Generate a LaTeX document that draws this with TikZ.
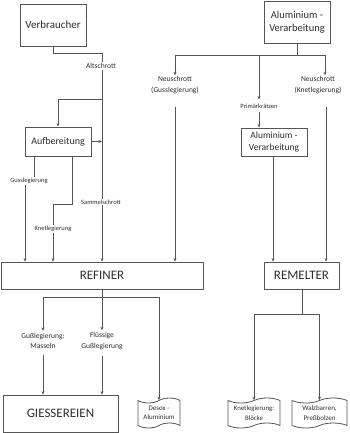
\documentclass[tikz,border=0pt]{standalone}
\usepackage{fontspec}
\setmainfont{Carlito}
\usetikzlibrary{arrows.meta,shapes.symbols}
\definecolor{linec}{HTML}{555555}
\definecolor{textc}{HTML}{2E2E2E}
\begin{document}
\begin{tikzpicture}[x=1pt,y=-1pt,
  box/.style={draw=linec, line width=0.8pt, text=textc, align=center, inner sep=0pt},
  lbl/.style={text=textc, align=center, inner sep=1pt, fill=white},
  conn/.style={draw=linec, line width=0.8pt},
  arr/.style={conn, -{Stealth[length=3.5pt,width=3pt]}},
  docbox/.style={tape, draw=linec, line width=0.8pt, text=textc, align=center, tape bend height=5pt, inner sep=0pt},
  fbig/.style={font=\fontsize{13}{15}\selectfont},
  fmid/.style={font=\fontsize{10}{12.5}\selectfont},
  fsmall/.style={font=\fontsize{7.5}{10.5}\selectfont},
  ftiny/.style={font=\fontsize{6.5}{7.5}\selectfont}]
\useasboundingbox (0,0) rectangle (350,433);
% boxes
\node[box, minimum width=66pt, minimum height=42pt, font=\fontsize{11}{13}\selectfont] (verb) at (53,25) {Verbraucher};
\node[box, minimum width=66pt, minimum height=42pt, font=\fontsize{10.5}{13}\selectfont] (alu1) at (297,22) {Aluminium -\\Verarbeitung};
\node[box, fmid, minimum width=66pt, minimum height=29pt] (auf) at (58,141.5) {Aufbereitung};
\node[box, font=\fontsize{9.5}{12}\selectfont, minimum width=66pt, minimum height=28pt] (alu2) at (274,142) {Aluminium -\\Verarbeitung};
\node[box, fbig, minimum width=202pt, minimum height=27pt] (ref) at (102,275.5) {REFINER};
\node[box, fbig, minimum width=75pt, minimum height=27pt] (rem) at (301.5,275.5) {REMELTER};
\node[box, fbig, minimum width=115pt, minimum height=37pt] (gie) at (60.5,413.5) {GIESSEREIEN};
\node[docbox, font=\fontsize{7}{9.5}\selectfont, minimum width=42pt, minimum height=30pt] (desox) at (159,413) {Desox -\\Aluminium};
\node[docbox, font=\fontsize{6.8}{9.5}\selectfont, minimum width=52pt, minimum height=30pt] (blo) at (254,413) {Knetlegierung:\\Blöcke};
\node[docbox, font=\fontsize{7}{9.5}\selectfont, minimum width=55pt, minimum height=30pt] (walz) at (319.5,413) {Walzbarren,\\Preßbolzen};
% label nodes that are connector ends
\node[lbl, fsmall] (ng) at (175,85) {Neuschrott\\(Gusslegierung)};
\node[lbl, fsmall] (nk) at (318,85) {Neuschrott\\(Knetlegierung)};
\node[lbl, ftiny, inner ysep=4pt] (pk) at (259,106) {Primärkrätzen};
\node[lbl, fsmall, inner ysep=2pt] (gm) at (43,341) {Gußlegierung:\\Masseln};
\node[lbl, fsmall, inner ysep=2pt] (fg) at (102,341) {Flüssige\\Gußlegierung};
% junctions
\coordinate (j0) at (102,53);
\coordinate (j1) at (102,99);
\coordinate (j2) at (297,55);
\coordinate (j3) at (102,297);
\coordinate (j4) at (302,314);
\coordinate (ga) at (34,181);
\coordinate (gb) at (25,181);
\coordinate (ka) at (72,204);
\coordinate (kb) at (53,204);
% upper left connectors
\draw[conn] (verb.south) |- (j0) -- (j1);
\draw[arr] (j1) -- (j1 |- ref.north);
\draw[arr] (j1) -| (auf.north);
\draw[arr] (auf.east) -- (auf.east -| j1);
\draw[arr] (auf.south -| ga) -- (ga) -- (gb) -- (gb |- ref.north);
\draw[arr] (auf.south -| ka) -- (ka) -- (kb) -- (kb |- ref.north);
% upper right connectors
\draw[conn] (alu1.south -| j2) -- (j2);
\draw[conn] (ng.north |- j2) -- (325,55);
\draw[arr] (ng.north |- j2) -- (ng.north);
\draw[arr] (pk.north |- j2) -- (pk.north);
\draw[arr] (325,55) -- (nk.north -| 325,0);
\draw[arr] ([yshift=-12pt]ng.south) -- (ng.south |- ref.north);
\draw[arr] ([xshift=8pt,yshift=-12pt]nk.south) -- ([xshift=8pt]nk.south |- rem.north);
\draw[arr] (pk.south) -- (pk.south |- alu2.north);
\draw[arr] (alu2.south -| 273,0) -- (rem.north -| 273,0);
% lower connectors
\draw[conn] (ref.south -| j3) -- (j3);
\draw[conn] (gm.north |- j3) -- (desox.north |- j3);
\draw[arr] (gm.north |- j3) -- (gm.north);
\draw[arr] (j3) -- (fg.north);
\draw[arr] (desox.north |- j3) -- (desox.north);
\draw[arr] ([yshift=-4pt]gm.south) -- (gm.south |- gie.north);
\draw[arr] ([yshift=-4pt]fg.south) -- (fg.south |- gie.north);
\draw[conn] (rem.south -| j4) -- (j4);
\draw[conn] (blo.north |- j4) -- (walz.north |- j4);
\draw[arr] (blo.north |- j4) -- (blo.north);
\draw[arr] (walz.north |- j4) -- (walz.north);
% labels sitting on lines
\node[lbl, fsmall] (alt) at (101,66) {Altschrott};
\node[lbl, ftiny] (sam) at (101,202) {Sammelschrott};
\node[lbl, ftiny] (gus) at (29,181) {Gusslegierung};
\node[lbl, ftiny] (kne) at (53,229) {Knetlegierung};
\end{tikzpicture}
\end{document}
